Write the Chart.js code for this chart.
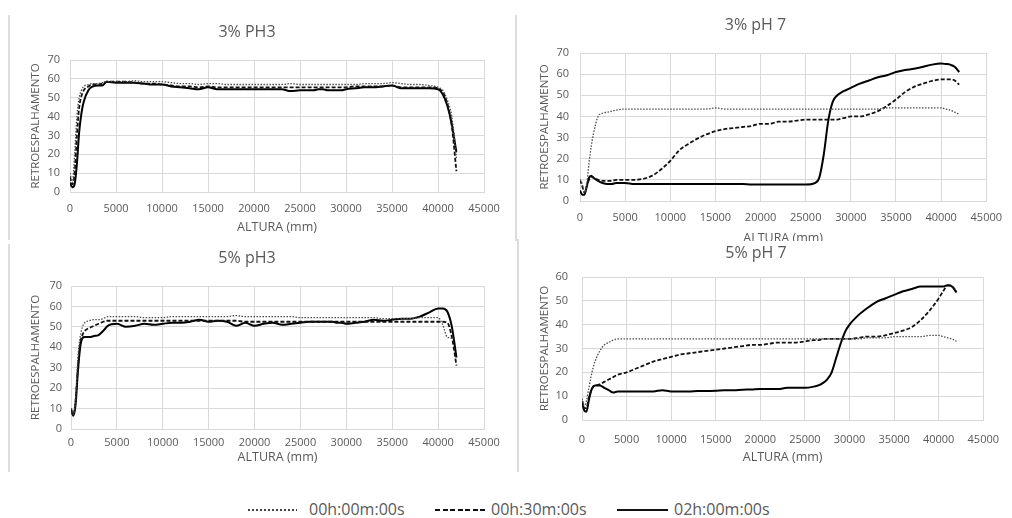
<!DOCTYPE html>
<html>
<head>
<meta charset="utf-8">
<script src="https://cdn.jsdelivr.net/npm/chart.js"></script>
<style>
  body { margin: 0; background: #fff; width: 1012px; height: 518px; position: relative; overflow: hidden; font-family: 'Open Sans', sans-serif; }
  canvas { position: absolute; }
  #c4 { background: #fff; }
  .edge { position: absolute; width: 2px; background: #dcdcdc; z-index: 5; }
  .key { position: absolute; top: 509px; height: 2px; }
  .txt { position: absolute; top: 498px; line-height: 22px; font-size: 16px; color: #595959; white-space: nowrap; }
</style>
</head>
<body>
<canvas id="c1" width="505" height="240" style="left:10px;top:0px"></canvas>
<canvas id="c2" width="494" height="250" style="left:518px;top:0px"></canvas>
<canvas id="c3" width="505" height="234" style="left:10px;top:241px"></canvas>
<canvas id="c4" width="494" height="234" style="left:518px;top:241px"></canvas>

<div class="edge" style="left:8px;top:15px;height:225px"></div>
<div class="edge" style="left:8px;top:244px;height:228px"></div>
<div class="edge" style="left:515px;top:15px;height:226px"></div>
<div class="edge" style="left:517px;top:239px;height:233px"></div>

<div class="key" style="left:248px;width:49px;background:repeating-linear-gradient(90deg,#444 0 2px,transparent 2px 4px)"></div>
<div class="txt" style="left:309px" id="l0"></div>
<div class="key" style="left:435px;width:52px;background:repeating-linear-gradient(90deg,#111 0 5px,transparent 5px 7.5px)"></div>
<div class="txt" style="left:491px" id="l1"></div>
<div class="key" style="left:617px;width:51px;background:#111"></div>
<div class="txt" style="left:674px" id="l2"></div>

<script>
// x positions (mm) shared by every curve
const heights = [0, 250, 500, 750, 1000, 1250, 1500, 2000, 2500, 3000, 3500, 4000,
  5000, 6000, 7000, 8000, 9000, 10000, 11000, 12000, 13000, 14000, 15000, 16000, 17000,
  18000, 19000, 20000, 21000, 22000, 23000, 24000, 25000, 26000,
  26500, 27000, 27500, 28000, 28500, 29000, 29500, 30000,
  31000, 32000, 33000, 34000, 35000, 36000, 37000, 38000, 39000, 40000,
  40500, 41000, 41500, 42000];

const times = ['00h:00m:00s', '00h:30m:00s', '02h:00m:00s'];

// 3% PH3
const ph3_3_t0 = [10, 5, 20, 40, 50, 54, 56, 57, 57.5, 57.5, 58, 58.5,
  58.5, 58.5, 59, 58.5, 58.5, 58.5, 58, 57.5, 57.5, 57, 57.5, 57.5, 57, 57, 57, 57, 57, 57, 57, 57.5, 57, 57,
  57, 57, 57, 57, 57, 57, 57, 57,
  57, 57.5, 57.5, 57.5, 58, 57.5, 57, 57, 56.5, 55.5,
  54, 49, 40, 18];
const ph3_3_t30 = [8, 4, 10, 30, 45, 51, 54, 56, 57, 57, 57.5, 58.5,
  58.5, 58.5, 58, 57.5, 57.5, 57, 56.5, 56, 56, 55.5, 56, 55.5, 55.5, 55.5, 55.5, 55.5, 55.5, 55.5, 55.5, 55.5, 55.5, 55.5,
  55.5, 55.5, 55.5, 55.5, 55.5, 55.5, 55.5, 55.5,
  56, 56, 56, 56, 56.5, 55.5, 55.5, 55.5, 55.5, 55,
  53, 47, 35, 11];
const ph3_3_t2h = [5, 2.5, 4, 15, 32, 42, 48, 54, 56, 56.5, 56.5, 58.5,
  58, 58, 58, 57.5, 57, 57, 56, 55.5, 55, 54.5, 55.5, 54.5, 54.5, 54.5, 54.5, 54.5, 54.5, 54.5, 54.5, 53.5, 54, 54,
  54, 54.5, 54.5, 54, 54, 54, 54, 54.5,
  55, 55.5, 55.5, 56, 56.5, 55, 55, 55, 55, 54.5,
  52, 46, 36, 21];

// 3% pH 7
const ph7_3_t0 = [10, 8, 4, 8, 18, 26, 32, 40, 41.5, 42, 42.5, 43,
  43.5, 43.5, 43.5, 43.5, 43.5, 43.5, 43.5, 43.5, 43.5, 43.5, 44, 43.5, 43.5, 43.5, 43.5, 43.5, 43.5, 43.5, 43.5, 43.5, 43.5, 43.5,
  43.5, 43.5, 43.5, 43.5, 43.5, 43.5, 43.5, 43.5,
  43.5, 43.5, 43.5, 44, 44, 44, 44, 44, 44, 44,
  43.5, 43, 42, 41];
const ph7_3_t30 = [10, 7, 4, 7, 10, 11.5, 11, 10, 9.5, 9.5, 9.5, 10,
  10, 10, 10.5, 12, 15, 19, 24, 27, 29.5, 31.5, 33, 34, 34.5, 35, 35.5, 36.5, 36.5, 37.5, 37.5, 38, 38.5, 38.5,
  38.5, 38.5, 38.5, 38.5, 38.5, 39, 39.5, 40,
  40, 41, 42.5, 45, 48, 51.5, 54, 55.5, 56.8, 57.5,
  57.5, 57.5, 57, 55];
const ph7_3_t2h = [5, 3, 3, 7, 11, 12, 11, 9.5, 8.5, 8, 8, 8.5,
  8.5, 8, 8, 8, 8, 8, 8, 8, 8, 8, 8, 8, 8, 8, 7.8, 7.8, 7.8, 7.8, 7.8, 7.8, 7.8, 8.5,
  11, 22, 38, 47, 50, 51.5, 52.5, 53.5,
  55.5, 57, 58.5, 59.5, 61, 62, 62.5, 63.5, 64.5, 65,
  64.8, 64.5, 63.5, 61];

// 5% pH3
const ph3_5_t0 = [10, 7, 15, 35, 45, 50, 52, 53, 53.5, 53.5, 54, 55,
  55, 55, 55, 54.5, 54.5, 54.5, 55, 55, 55, 55, 55, 55, 55, 55.5, 55, 55, 55, 55, 55, 55, 54.5, 54.5,
  54.5, 54.5, 54.5, 54.5, 54.5, 54.5, 54.5, 54.5,
  54.5, 54.5, 54.5, 54, 54, 54, 54, 54.5, 54.5, 54.5,
  51, 45, 44.5, 44];
const ph3_5_t30 = [9, 7, 14, 30, 42, 46, 48, 49.5, 50.5, 51.5, 52.5, 53,
  53, 53, 53, 53, 53, 53, 53, 53, 53, 53, 53, 53, 53, 53, 52.5, 52.5, 52.5, 52.5, 52.5, 52.5, 52.5, 52.5,
  52.5, 52.5, 52.5, 52.5, 52.5, 52.5, 52.5, 52.5,
  52.5, 52.5, 52.5, 52.5, 52.5, 52.5, 52.5, 52.5, 52.5, 52.5,
  52.5, 52, 45, 31];
const ph3_5_t2h = [10, 6.5, 12, 28, 40, 44.5, 45, 45, 45.5, 46, 48, 50.5,
  51.5, 50, 50.5, 51.5, 51, 51.5, 52, 52, 52.5, 53.5, 52.5, 53, 52.5, 50.5, 52, 50.5, 51.5, 52, 51, 51.5, 52, 52.5,
  52.5, 52.5, 52.5, 52.5, 52.5, 52, 52, 51.5,
  52, 52.5, 53.5, 53, 53.5, 54, 54, 55, 57, 59,
  59, 57.5, 50, 35];

// 5% pH 7
const ph7_5_t0 = [9, 6, 8, 13, 18, 22, 25, 29, 31.5, 32.5, 33.5, 34,
  34, 34, 34, 34, 34, 34, 34, 34, 34, 34, 34, 34, 34, 34, 34, 34, 34, 34, 34, 34, 34, 34,
  34, 34, 34, 34, 34, 34, 34, 34,
  34, 34.5, 34.5, 34.5, 35, 35, 35, 35, 35.5, 35.5,
  35, 34.5, 34, 33];
const ph7_5_t30 = [8, 5, 5, 9, 12, 14, 14.5, 15, 16, 17, 18, 19,
  20, 21.5, 23, 24.5, 25.5, 26.5, 27.5, 28, 28.5, 29, 29.5, 30, 30.5, 31, 31.5, 31.5, 32, 32.5, 32.5, 32.5, 33, 33.5,
  33.5, 34, 34, 34, 34, 34, 34, 34,
  34.5, 35, 35, 35.5, 36.5, 37.5, 39, 42, 46, 51,
  54, 56.5, 56, 54];
const ph7_5_t2h = [8, 4, 3.5, 8, 12, 14, 14.5, 14.5, 13.5, 12.5, 11.5, 12,
  12, 12, 12, 12, 12.5, 12, 12, 12, 12.2, 12.2, 12.3, 12.5, 12.5, 12.7, 12.8, 13, 13, 13, 13.5, 13.5, 13.5, 14,
  14.5, 15.5, 17, 20, 26, 32, 37, 40,
  44, 47, 49.5, 51, 52.5, 54, 55, 56, 56, 56,
  56, 56.5, 56, 53.5];

const grey = '#595959';
const fam = "'Open Sans', sans-serif";

times.forEach((t, i) => { document.getElementById('l' + i).textContent = t; });

function pts(vals) {
  return heights.map((h, i) => ({ x: h, y: vals[i] }));
}

function makePanel(id, title, yMax, t0, t30, t2h, g) {
  new Chart(document.getElementById(id).getContext('2d'), {
    type: 'line',
    data: {
      datasets: [
        { label: times[0], data: pts(t0), borderColor: '#4a4a4a', borderWidth: 1.3, borderDash: [1.5, 1.5] },
        { label: times[1], data: pts(t30), borderColor: '#111', borderWidth: 1.8, borderDash: [4, 2] },
        { label: times[2], data: pts(t2h), borderColor: '#000', borderWidth: 2 }
      ]
    },
    options: {
      responsive: false,
      animation: false,
      devicePixelRatio: 1,
      elements: {
        point: { radius: 0 },
        line: { cubicInterpolationMode: 'monotone', borderCapStyle: 'butt' }
      },
      layout: { padding: { left: 0, right: g.right, top: 0, bottom: g.bottom } },
      plugins: {
        legend: { display: false },
        tooltip: { enabled: false },
        title: {
          display: true, text: title, color: grey,
          font: { family: fam, size: 16, weight: 'normal' },
          padding: { top: g.tTop, bottom: g.tBottom }
        }
      },
      scales: {
        x: {
          type: 'linear', min: 0, max: 45000,
          ticks: { stepSize: 5000, padding: g.xPad, color: grey, font: { family: fam, size: 11 }, callback: v => String(v), maxRotation: 0 },
          grid: { color: '#d9d9d9', drawTicks: false },
          border: { color: '#d9d9d9' },
          title: { display: true, text: 'ALTURA (mm)', color: grey, font: { family: fam, size: 12.5 }, padding: { top: 0, bottom: 4 } },
          afterFit: s => { s.height = g.xH; }
        },
        y: {
          min: 0, max: yMax,
          ticks: { stepSize: 10, padding: g.yPad, color: grey, font: { family: fam, size: 11 } },
          grid: { color: '#d9d9d9', drawTicks: false },
          border: { display: false },
          title: { display: true, text: 'RETROESPALHAMENTO', color: grey, font: { family: fam, size: 11.5 }, padding: { top: g.yT, bottom: 0 } },
          afterFit: s => { s.width = g.yW; }
        }
      }
    }
  });
}

makePanel('c1', '3% PH3', 70, ph3_3_t0, ph3_3_t30, ph3_3_t2h,
  { right: 31, bottom: 1, tTop: 22.4, tBottom: 18.4, xH: 47, xPad: 10, yPad: 10, yW: 60, yT: 19.1 });
makePanel('c2', '3% pH 7', 70, ph7_3_t0, ph7_3_t30, ph7_3_t2h,
  { right: 19, bottom: 0, tTop: 15.4, tBottom: 18.4, xH: 49, xPad: 10, yPad: 11, yW: 62, yT: 20.1 });
makePanel('c3', '5% pH3', 70, ph3_5_t0, ph3_5_t30, ph3_5_t2h,
  { right: 31, bottom: 5.8, tTop: 7.4, tBottom: 18.4, xH: 40.2, xPad: 7, yPad: 9, yW: 61, yT: 19.1 });
makePanel('c4', '5% pH 7', 60, ph7_5_t0, ph7_5_t30, ph7_5_t2h,
  { right: 18, bottom: 5.8, tTop: 2.4, tBottom: 14.4, xH: 49.2, xPad: 13, yPad: 14, yW: 64, yT: 20.1 });
</script>
</body>
</html>
